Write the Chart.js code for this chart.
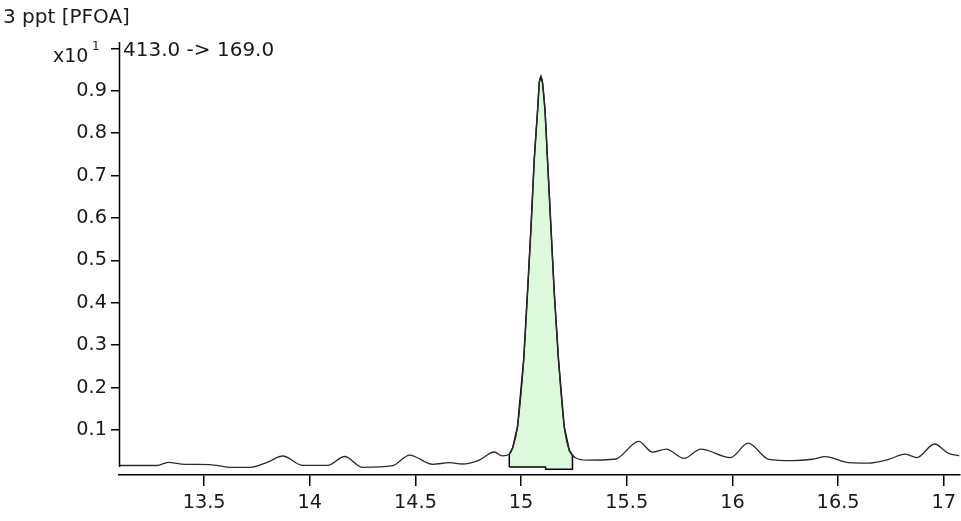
<!DOCTYPE html>
<html lang="en">
<head>
    <meta charset="UTF-8">
    <title>3 ppt [PFOA] 413.0 -> 169.0</title>
    <script src="https://cdn.jsdelivr.net/npm/chart.js"></script>
    <style>
        html, body {
            margin: 0;
            padding: 0;
            background: #fff;
        }
        #chromChart {
            display: block;
        }
    </style>
</head>
<body>
    <canvas id="chromChart" width="961" height="521"></canvas>

    <script>
        // retention time (min) and response (x10^1 counts)
        const times = [13.097, 13.277, 13.329, 13.409, 13.527, 13.621, 13.716, 13.801, 13.872, 13.967,
            14.084, 14.165, 14.250, 14.391, 14.472, 14.581, 14.661, 14.722, 14.802, 14.873,
            14.911, 14.944, 14.960, 14.983, 15.012, 15.030, 15.047, 15.062, 15.078, 15.086,
            15.094, 15.101, 15.113, 15.125, 15.141, 15.157, 15.177, 15.204, 15.228, 15.243,
            15.259, 15.312, 15.444, 15.557, 15.621, 15.687, 15.771, 15.850, 15.991, 16.074,
            16.172, 16.282, 16.377, 16.440, 16.550, 16.645, 16.739, 16.818, 16.873, 16.956,
            17.022, 17.074];
        const intensity = [0.0163, 0.0163, 0.0238, 0.0191, 0.0186, 0.0120, 0.0120, 0.0245, 0.0387, 0.0167,
            0.0167, 0.0375, 0.0120, 0.0158, 0.0410, 0.0191, 0.0229, 0.0198, 0.0292, 0.0481,
            0.0390, 0.0430, 0.0580, 0.1078, 0.2651, 0.4224, 0.5797, 0.7368, 0.8547, 0.9200,
            0.9333, 0.9200, 0.8547, 0.7368, 0.5797, 0.4224, 0.2651, 0.1078, 0.0520, 0.0410,
            0.0340, 0.0290, 0.0310, 0.0730, 0.0480, 0.0550, 0.0330, 0.0550, 0.0350, 0.0690,
            0.0310, 0.0280, 0.0310, 0.0370, 0.0230, 0.0220, 0.0310, 0.0430, 0.0350, 0.0670,
            0.0450, 0.0390];

        // integration: start / step / end times and baseline levels
        const peakTimes = [14.944, 15.116, 15.243];
        const peakBase = [0.0127, 0.0073];

        const xTicks = [13.5, 14, 14.5, 15, 15.5, 16, 16.5, 17];
        const xTickLabels = ['13.5', '14', '14.5', '15', '15.5', '16', '16.5', '17'];
        const yTicks = [0.1, 0.2, 0.3, 0.4, 0.5, 0.6, 0.7, 0.8, 0.9, 1.0];
        const yTickLabels = ['0.1', '0.2', '0.3', '0.4', '0.5', '0.6', '0.7', '0.8', '0.9', ''];

        const compoundLabel = '3 ppt [PFOA]';
        const transitionLabel = '413.0 -> 169.0';

        const tickFont = { family: 'DejaVu Sans', size: 19.3 };

        let trace = times.map((t, i) => ({ x: t, y: intensity[i] }));
        // closed outline: baseline start, trace over the peak, stepped baseline back to start
        let peakArea = [{ x: peakTimes[0], y: peakBase[0] }]
            .concat(trace.filter(p => p.x >= peakTimes[0] && p.x <= peakTimes[2]))
            .concat([
                { x: peakTimes[2], y: peakBase[1] },
                { x: peakTimes[1], y: peakBase[1] },
                { x: peakTimes[1], y: peakBase[0] },
                { x: peakTimes[0], y: peakBase[0] }
            ]);

        // axis line, scale factor and header texts
        const decorations = {
            id: 'decorations',
            afterDraw(chart) {
                const ctx = chart.ctx;
                const area = chart.chartArea;
                const yScale = chart.scales.y;
                ctx.save();
                ctx.strokeStyle = '#000';
                ctx.lineWidth = 1.5;
                ctx.beginPath();
                ctx.moveTo(area.left + 0.5, area.top);
                ctx.lineTo(area.left + 0.5, yScale.getPixelForValue(peakBase[0]));
                ctx.stroke();

                ctx.fillStyle = '#1a1a1a';
                ctx.textBaseline = 'alphabetic';
                ctx.textAlign = 'left';
                ctx.font = '20px "DejaVu Sans"';
                ctx.fillText(compoundLabel, 3, 23);
                ctx.fillText(transitionLabel, 123, 56);
                ctx.font = '19px "DejaVu Sans"';
                ctx.fillText('x10', 53, 62);
                ctx.font = '12px "DejaVu Sans"';
                ctx.fillText('1', 92, 50);
                ctx.restore();
            }
        };

        let ctx = document.getElementById('chromChart').getContext('2d');
        let chromChart = new Chart(ctx, {
            type: 'line',
            data: {
                datasets: [{
                    data: trace,
                    borderColor: '#2b2b2b',
                    borderWidth: 1.3,
                    pointRadius: 0,
                    cubicInterpolationMode: 'monotone',
                    fill: false
                }, {
                    data: peakArea,
                    borderColor: '#000',
                    borderWidth: 1.5,
                    backgroundColor: 'rgb(222, 248, 222)',
                    pointRadius: 0,
                    tension: 0,
                    fill: 'shape'
                }]
            },
            options: {
                responsive: false,
                animation: false,
                devicePixelRatio: 1,
                layout: {
                    padding: { top: 42, left: 0, right: 0, bottom: 0 }
                },
                plugins: {
                    legend: { display: false },
                    tooltip: { enabled: false }
                },
                scales: {
                    x: {
                        type: 'linear',
                        min: 13.097,
                        max: 17.074,
                        afterFit(axis) { axis.height = 46; },
                        afterBuildTicks(axis) { axis.ticks = xTicks.map(v => ({ value: v })); },
                        border: { display: true, color: '#000', width: 1.5 },
                        grid: {
                            drawOnChartArea: false,
                            drawTicks: true,
                            tickLength: 11,
                            color: '#000',
                            lineWidth: 1.5
                        },
                        ticks: {
                            font: tickFont,
                            color: '#1a1a1a',
                            padding: 5,
                            maxRotation: 0,
                            autoSkip: false,
                            callback: (value) => xTickLabels[xTicks.indexOf(value)]
                        }
                    },
                    y: {
                        type: 'linear',
                        min: -0.0061,
                        max: 1.015,
                        afterFit(axis) { axis.width = 119; },
                        afterBuildTicks(axis) { axis.ticks = yTicks.map(v => ({ value: v })); },
                        border: { display: false },
                        grid: {
                            drawOnChartArea: false,
                            drawTicks: true,
                            tickLength: 8,
                            color: '#000',
                            lineWidth: 1.5
                        },
                        ticks: {
                            font: tickFont,
                            color: '#1a1a1a',
                            padding: 4,
                            autoSkip: false,
                            callback: (value) => yTickLabels[yTicks.indexOf(value)]
                        }
                    }
                }
            },
            plugins: [decorations]
        });
    </script>
</body>
</html>
